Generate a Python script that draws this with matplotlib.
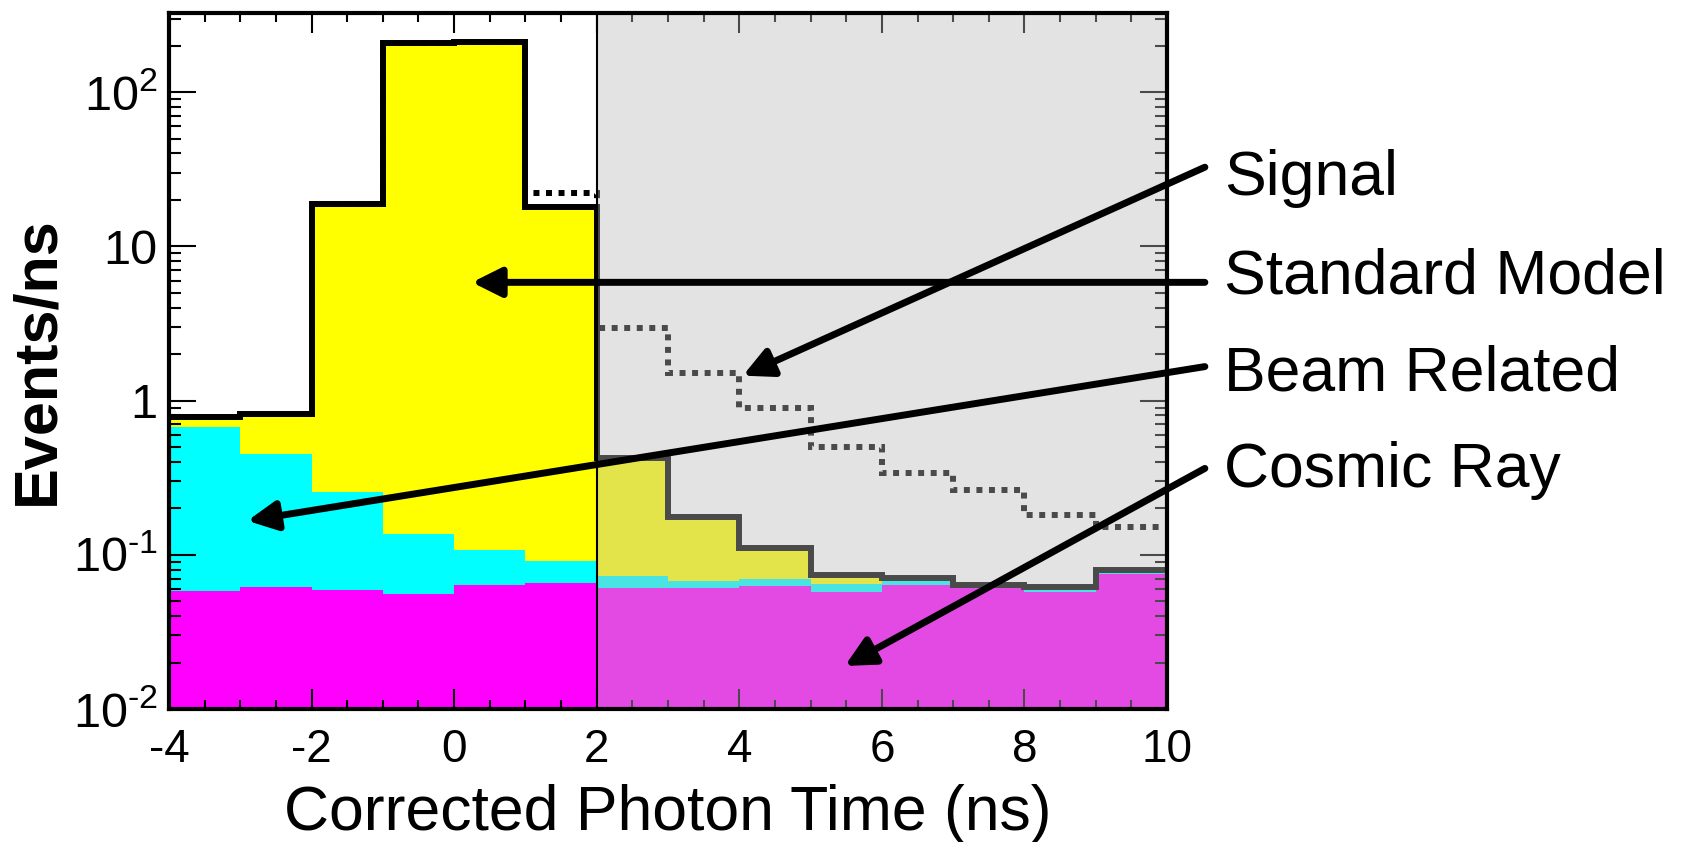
import numpy as np
import matplotlib
matplotlib.use('Agg')
import matplotlib.pyplot as plt
from matplotlib.ticker import MultipleLocator, FuncFormatter, NullFormatter, LogLocator

plt.rcParams['font.family'] = ['Liberation Sans', 'DejaVu Sans']
plt.rcParams['mathtext.fontset'] = 'custom'
plt.rcParams['mathtext.rm'] = 'Liberation Sans'
plt.rcParams['mathtext.default'] = 'rm'
plt.rcParams['axes.unicode_minus'] = False

# bin edges (ns) and stacked tops (Events/ns)
edges = np.arange(-4, 11, 1)
cosmic_top = [0.058, 0.062, 0.059, 0.056, 0.064, 0.066, 0.061, 0.061, 0.063, 0.057, 0.064, 0.061, 0.057, 0.075]
beam_top = [0.67, 0.45, 0.257, 0.137, 0.107, 0.091, 0.073, 0.068, 0.070, 0.065, 0.068, 0.062, 0.059, 0.078]
sm_top = [0.78, 0.82, 18.7, 208, 210, 17.9, 0.426, 0.177, 0.110, 0.074, 0.071, 0.064, 0.062, 0.080]
signal_top = [0.78, 0.82, 18.7, 208, 210, 22.1, 2.94, 1.50, 0.89, 0.50, 0.34, 0.264, 0.18, 0.152]

signal_region = (2, 10)

# annotations: label, arrow tip (x, y), arrow start (x, y)
labels = ['Signal', 'Standard Model', 'Beam Related', 'Cosmic Ray']
tip_x = [4.05, 0.25, -2.9, 5.48]
tip_y = [1.45, 5.84, 0.166, 0.019]
start_x = [10.53, 10.53, 10.53, 10.53]
start_y = [32.6, 5.84, 1.66, 0.363]
label_y = [0.7684, 0.652, 0.5368, 0.4216]   # baselines, figure fraction

fig = plt.figure(figsize=(16.88, 8.42), dpi=100)
ax = fig.add_axes([0.1001, 0.158, 0.5913, 0.8266])
ax.set_yscale('log')

# stacked histogram: draw the tallest first
ax.stairs(sm_top, edges, baseline=1e-4, fill=True, color='#ffff00', lw=0, zorder=1)
ax.stairs(beam_top, edges, baseline=1e-4, fill=True, color='#00ffff', lw=0, zorder=1.1)
ax.stairs(cosmic_top, edges, baseline=1e-4, fill=True, color='#ff00ff', lw=0, zorder=1.2)

ax.stairs(sm_top, edges, baseline=None, color='black', lw=4.3, zorder=2)
ax.stairs(signal_top, edges, baseline=None, color='black', lw=4.3,
          linestyle=(0, (1, 1.1)), zorder=2.1)

# shaded signal region
ax.axvspan(*signal_region, facecolor=(187/255, 187/255, 187/255), alpha=0.4, lw=0, zorder=3)
ax.axvline(signal_region[0], color='black', lw=1.5, zorder=4)

ax.set_xlim(-4, 10)
ax.set_ylim(0.01, 326)

ax.xaxis.set_major_locator(MultipleLocator(2))
ax.xaxis.set_minor_locator(MultipleLocator(0.5))
ax.yaxis.set_major_locator(LogLocator(base=10))
ax.yaxis.set_minor_locator(LogLocator(base=10, subs=np.arange(2, 10)))


def log_label(v, pos):
    e = int(round(np.log10(v)))
    if e == 1:
        return '10'
    if e == 0:
        return '1'
    if e < 0:
        return '$10^{\u2010%d}$' % -e   # short hyphen like the original
    return '$10^{%d}$' % e


ax.yaxis.set_major_formatter(FuncFormatter(log_label))
ax.yaxis.set_minor_formatter(NullFormatter())

ax.tick_params(which='both', direction='in', top=True, right=True, width=1.5, color='black')
ax.tick_params(axis='x', which='major', length=14.5, labelsize=33, pad=14)
ax.tick_params(axis='x', which='minor', length=6.5)
ax.tick_params(axis='y', which='major', length=19.5, labelsize=35, pad=8)
ax.tick_params(axis='y', which='minor', length=8.6)

for sp in ax.spines.values():
    sp.set_linewidth(3)
    sp.set_zorder(5)

fig.text(0.0225, 0.572, 'Events/ns', rotation=90, ha='center', va='center',
         fontsize=44, fontweight='bold')
fig.text(0.3957, 0.0145, 'Corrected Photon Time (ns)', ha='center', va='baseline', fontsize=45)

for i, lab in enumerate(labels):
    ax.annotate('', xy=(tip_x[i], tip_y[i]), xytext=(start_x[i], start_y[i]),
                annotation_clip=False, zorder=6,
                arrowprops=dict(arrowstyle='-|>', lw=5, color='black',
                                mutation_scale=44, shrinkA=0, shrinkB=0))
    fig.text(0.725, label_y[i], lab, ha='left', va='baseline', fontsize=45)

fig.savefig('out.png', dpi=100)
